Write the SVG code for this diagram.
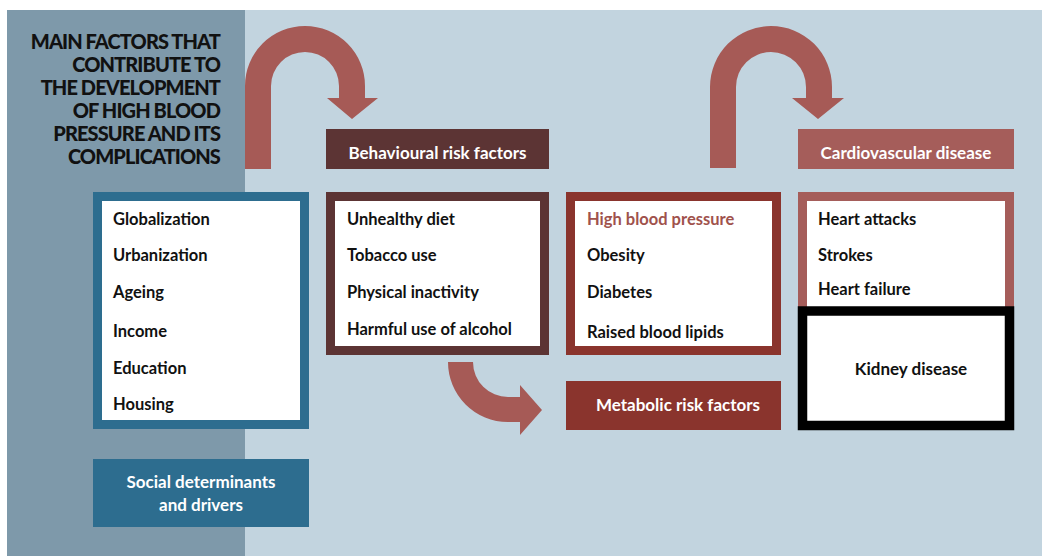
<svg xmlns="http://www.w3.org/2000/svg" width="1042" height="556" viewBox="0 0 1042 556">
<style>
  .t { font-family: Lato, "Open Sans", "Liberation Sans", sans-serif; font-weight: bold; font-size: 16.5px; fill: #111; }
  .w { font-family: Lato, "Open Sans", "Liberation Sans", sans-serif; font-weight: bold; font-size: 17px; fill: #fff; text-anchor: middle; }
  .title { font-family: Lato, "Open Sans", "Liberation Sans", sans-serif; font-weight: 900; font-size: 20px; fill: #111; text-anchor: end; letter-spacing: -0.9px; }
  .arrow { fill: #a65a56; }
</style>
<rect x="0" y="0" width="1042" height="556" fill="#ffffff"/>
<rect x="7" y="10" width="1035" height="546" fill="#c2d4df"/>
<rect x="7" y="10" width="238" height="546" fill="#7e99aa"/>

<g id="title">
  <text class="title" x="220" y="49">MAIN FACTORS THAT</text>
  <text class="title" x="220" y="72">CONTRIBUTE TO</text>
  <text class="title" x="220" y="95">THE DEVELOPMENT</text>
  <text class="title" x="220" y="118">OF HIGH BLOOD</text>
  <text class="title" x="220" y="141">PRESSURE AND ITS</text>
  <text class="title" x="220" y="164">COMPLICATIONS</text>
</g>

<g id="connectors">
  <path class="arrow" d="M245,169 L245,86 A60,60 0 0 1 365,86 L365,98 L378,98 L352,119 L327,98 L339,98 L339,86 A34,34 0 0 0 271,86 L271,169 Z"/>
  <path class="arrow" d="M710,168 L710,87 A61,61 0 0 1 832,87 L832,98 L844,98 L818,119 L792,98 L806,98 L806,87 A35,35 0 0 0 736,87 L736,168 Z"/>
  <path class="arrow" d="M448,362 L473,362 A35,35 0 0 0 508,397 L520,397 L520,385 L542,410 L520,435 L520,422 L508,422 A60,60 0 0 1 448,362 Z"/>
</g>

<g id="social-list">
  <rect x="97.5" y="196.5" width="207" height="228" fill="#ffffff" stroke="#2d6d8f" stroke-width="9"/>
  <text class="t" x="113" y="225">Globalization</text>
  <text class="t" x="113" y="261">Urbanization</text>
  <text class="t" x="113" y="298">Ageing</text>
  <text class="t" x="113" y="337">Income</text>
  <text class="t" x="113" y="374">Education</text>
  <text class="t" x="113" y="410">Housing</text>
</g>

<g id="social-label">
  <rect x="93" y="459" width="216" height="68" fill="#2d6d8f"/>
  <text class="w" x="201" y="488">Social determinants</text>
  <text class="w" x="201" y="511">and drivers</text>
</g>

<g id="behavioural-label">
  <rect x="326" y="129" width="223" height="40" fill="#5c3434"/>
  <text class="w" x="437.5" y="159">Behavioural risk factors</text>
</g>

<g id="behavioural-list">
  <rect x="330.5" y="196.5" width="214" height="154" fill="#ffffff" stroke="#5c3434" stroke-width="9"/>
  <text class="t" x="347" y="225">Unhealthy diet</text>
  <text class="t" x="347" y="261">Tobacco use</text>
  <text class="t" x="347" y="298">Physical inactivity</text>
  <text class="t" x="347" y="335">Harmful use of alcohol</text>
</g>

<g id="metabolic-list">
  <rect x="570.5" y="196.5" width="206" height="154" fill="#ffffff" stroke="#8a342d" stroke-width="9"/>
  <text class="t" x="587" y="225" style="fill:#a0524c">High blood pressure</text>
  <text class="t" x="587" y="261">Obesity</text>
  <text class="t" x="587" y="298">Diabetes</text>
  <text class="t" x="587" y="338">Raised blood lipids</text>
</g>

<g id="metabolic-label">
  <rect x="566" y="381" width="215" height="49" fill="#8a342d"/>
  <text class="w" x="678" y="411">Metabolic risk factors</text>
</g>

<g id="cardio-label">
  <rect x="798" y="129" width="216" height="40" fill="#a55d5a"/>
  <text class="w" x="906" y="159">Cardiovascular disease</text>
</g>

<g id="cardio-list">
  <rect x="802.5" y="196.5" width="207" height="120" fill="#ffffff" stroke="#a55d5a" stroke-width="9"/>
  <text class="t" x="818" y="225">Heart attacks</text>
  <text class="t" x="818" y="261">Strokes</text>
  <text class="t" x="818" y="295">Heart failure</text>
</g>

<g id="kidney">
  <rect x="802.5" y="311" width="207" height="114.5" fill="#ffffff" stroke="#000000" stroke-width="9.5"/>
  <text class="t" x="911" y="375" text-anchor="middle" style="font-size:17px">Kidney disease</text>
</g>
</svg>
